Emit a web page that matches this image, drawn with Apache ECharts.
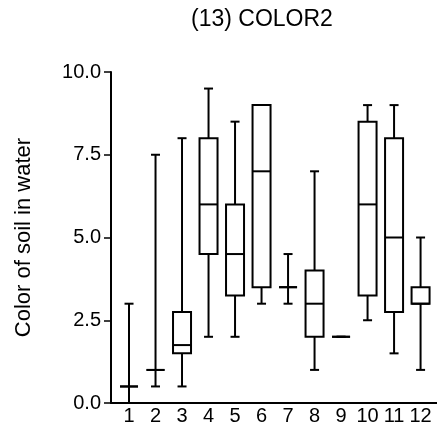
<!DOCTYPE html>
<html>
<head>
<meta charset="utf-8">
<script src="https://cdn.jsdelivr.net/npm/echarts@6/dist/echarts.min.js"></script>
<style>
  html, body { margin: 0; padding: 0; background: #fff; }
  #chart { width: 437px; height: 431px; }
</style>
</head>
<body>
<div id="chart"></div>
<script>
// categories (site number) and box stats [min, q1, median, q3, max]
const categories = [1, 2, 3, 4, 5, 6, 7, 8, 9, 10, 11, 12]
const boxData = [
  [0, 0.5, 0.5, 0.5, 3],
  [0.5, 1, 1, 1, 7.5],
  [0.5, 1.5, 1.75, 2.75, 8],
  [2, 4.5, 6, 8, 9.5],
  [2, 3.25, 4.5, 6, 8.5],
  [3, 3.5, 7, 9, 9],
  [3, 3.5, 3.5, 3.5, 4.5],
  [1, 2, 3, 4, 7],
  [2, 2, 2, 2, 2],
  [2.5, 3.25, 6, 8.5, 9],
  [1.5, 2.75, 5, 8, 9],
  [1, 3, 3, 3.5, 5]
]
const yTicks = [0, 2.5, 5, 7.5, 10]

const font = 'Liberation Sans, Arial, sans-serif'
const boxW = 18
const capW = 9

const seriesData = categories.map((c, i) => [c].concat(boxData[i]))

function renderBox(params, api) {
  const x = api.value(0)
  const pMin = api.coord([x, api.value(1)])
  const pQ1 = api.coord([x, api.value(2)])
  const pMed = api.coord([x, api.value(3)])
  const pQ3 = api.coord([x, api.value(4)])
  const pMax = api.coord([x, api.value(5)])
  const cx = pMed[0]
  const st = { stroke: '#000', lineWidth: 2, fill: 'none' }
  const children = [
    { type: 'line', shape: { x1: cx, y1: pQ3[1], x2: cx, y2: pMax[1] }, style: st },
    { type: 'line', shape: { x1: cx, y1: pQ1[1], x2: cx, y2: pMin[1] }, style: st },
    { type: 'line', shape: { x1: cx - capW / 2, y1: pMax[1], x2: cx + capW / 2, y2: pMax[1] }, style: st },
    { type: 'line', shape: { x1: cx - capW / 2, y1: pMin[1], x2: cx + capW / 2, y2: pMin[1] }, style: st },
    {
      type: 'rect',
      shape: { x: cx - boxW / 2, y: pQ3[1], width: boxW, height: pQ1[1] - pQ3[1] },
      style: { stroke: '#000', lineWidth: 2, fill: '#fff' }
    },
    { type: 'line', shape: { x1: cx - boxW / 2, y1: pMed[1], x2: cx + boxW / 2, y2: pMed[1] }, style: st }
  ]
  return { type: 'group', children: children }
}

const chart = echarts.init(document.getElementById('chart'))
const option = {
  backgroundColor: '#fff',
  animation: false,
  title: {
    text: '(13) COLOR2',
    left: 186,
    top: 3,
    textStyle: { fontFamily: font, fontSize: 23, fontWeight: 'normal', color: '#000' }
  },
  grid: {
    left: 111,
    right: 0,
    top: 72,
    bottom: 28
  },
  xAxis: {
    type: 'value',
    min: 0.32,
    max: 12.62,
    splitLine: { show: false },
    axisTick: { show: false },
    axisLine: { lineStyle: { color: '#000', width: 2 } },
    axisLabel: {
      customValues: categories,
      color: '#000',
      fontFamily: font,
      fontSize: 20,
      margin: 3
    }
  },
  yAxis: {
    type: 'value',
    min: 0,
    max: 10,
    interval: 2.5,
    name: 'Color of soil in water',
    nameLocation: 'middle',
    nameGap: 76,
    nameTextStyle: { fontFamily: font, fontSize: 22, color: '#000' },
    splitLine: { show: false },
    axisLine: { show: true, lineStyle: { color: '#000', width: 2 } },
    axisTick: {
      show: true,
      length: 7,
      customValues: yTicks,
      lineStyle: { color: '#000', width: 1.5 }
    },
    axisLabel: {
      customValues: yTicks,
      color: '#000',
      fontFamily: font,
      fontSize: 20,
      margin: 10,
      formatter: v => v.toFixed(1)
    }
  },
  series: [{
    type: 'custom',
    renderItem: renderBox,
    encode: { x: 0, y: [1, 2, 3, 4, 5] },
    data: seriesData
  }]
}
chart.setOption(option)
</script>
</body>
</html>
